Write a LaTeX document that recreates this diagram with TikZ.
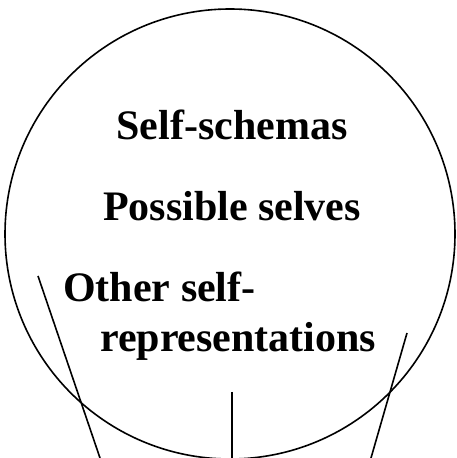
\documentclass[tikz,border=0pt]{standalone}
\usepackage{fontspec}
\setmainfont{Liberation Serif}
\begin{document}
\begin{tikzpicture}[x=1pt,y=1pt,
  lbl/.style={font=\fontsize{42}{50}\selectfont\bfseries, inner sep=0pt},
  ln/.style={line width=1.6pt, black}]
\useasboundingbox (0,0) rectangle (457,458);
\begin{scope}
\clip (0,0) rectangle (457,458);
\draw[ln] (230,224) circle [radius=225];
\coordinate (l1) at (38,182);
\coordinate (l2) at (100,0);
\coordinate (m1) at (232,66);
\coordinate (m2) at (232,0);
\coordinate (r1) at (407,125);
\coordinate (r2) at (371,0);
\draw[ln] (l1) -- (l2);
\draw[ln] (m1) -- (m2);
\draw[ln] (r1) -- (r2);
\end{scope}
\node[lbl, anchor=base] (ss) at (232,318) {Self-schemas};
\node[lbl, anchor=base] (ps) at (232,237) {Possible selves};
\node[lbl, anchor=base west] (os) at (63,156) {Other self-};
\node[lbl, anchor=base west] (rp) at (100,106) {representations};
\end{tikzpicture}
\end{document}
